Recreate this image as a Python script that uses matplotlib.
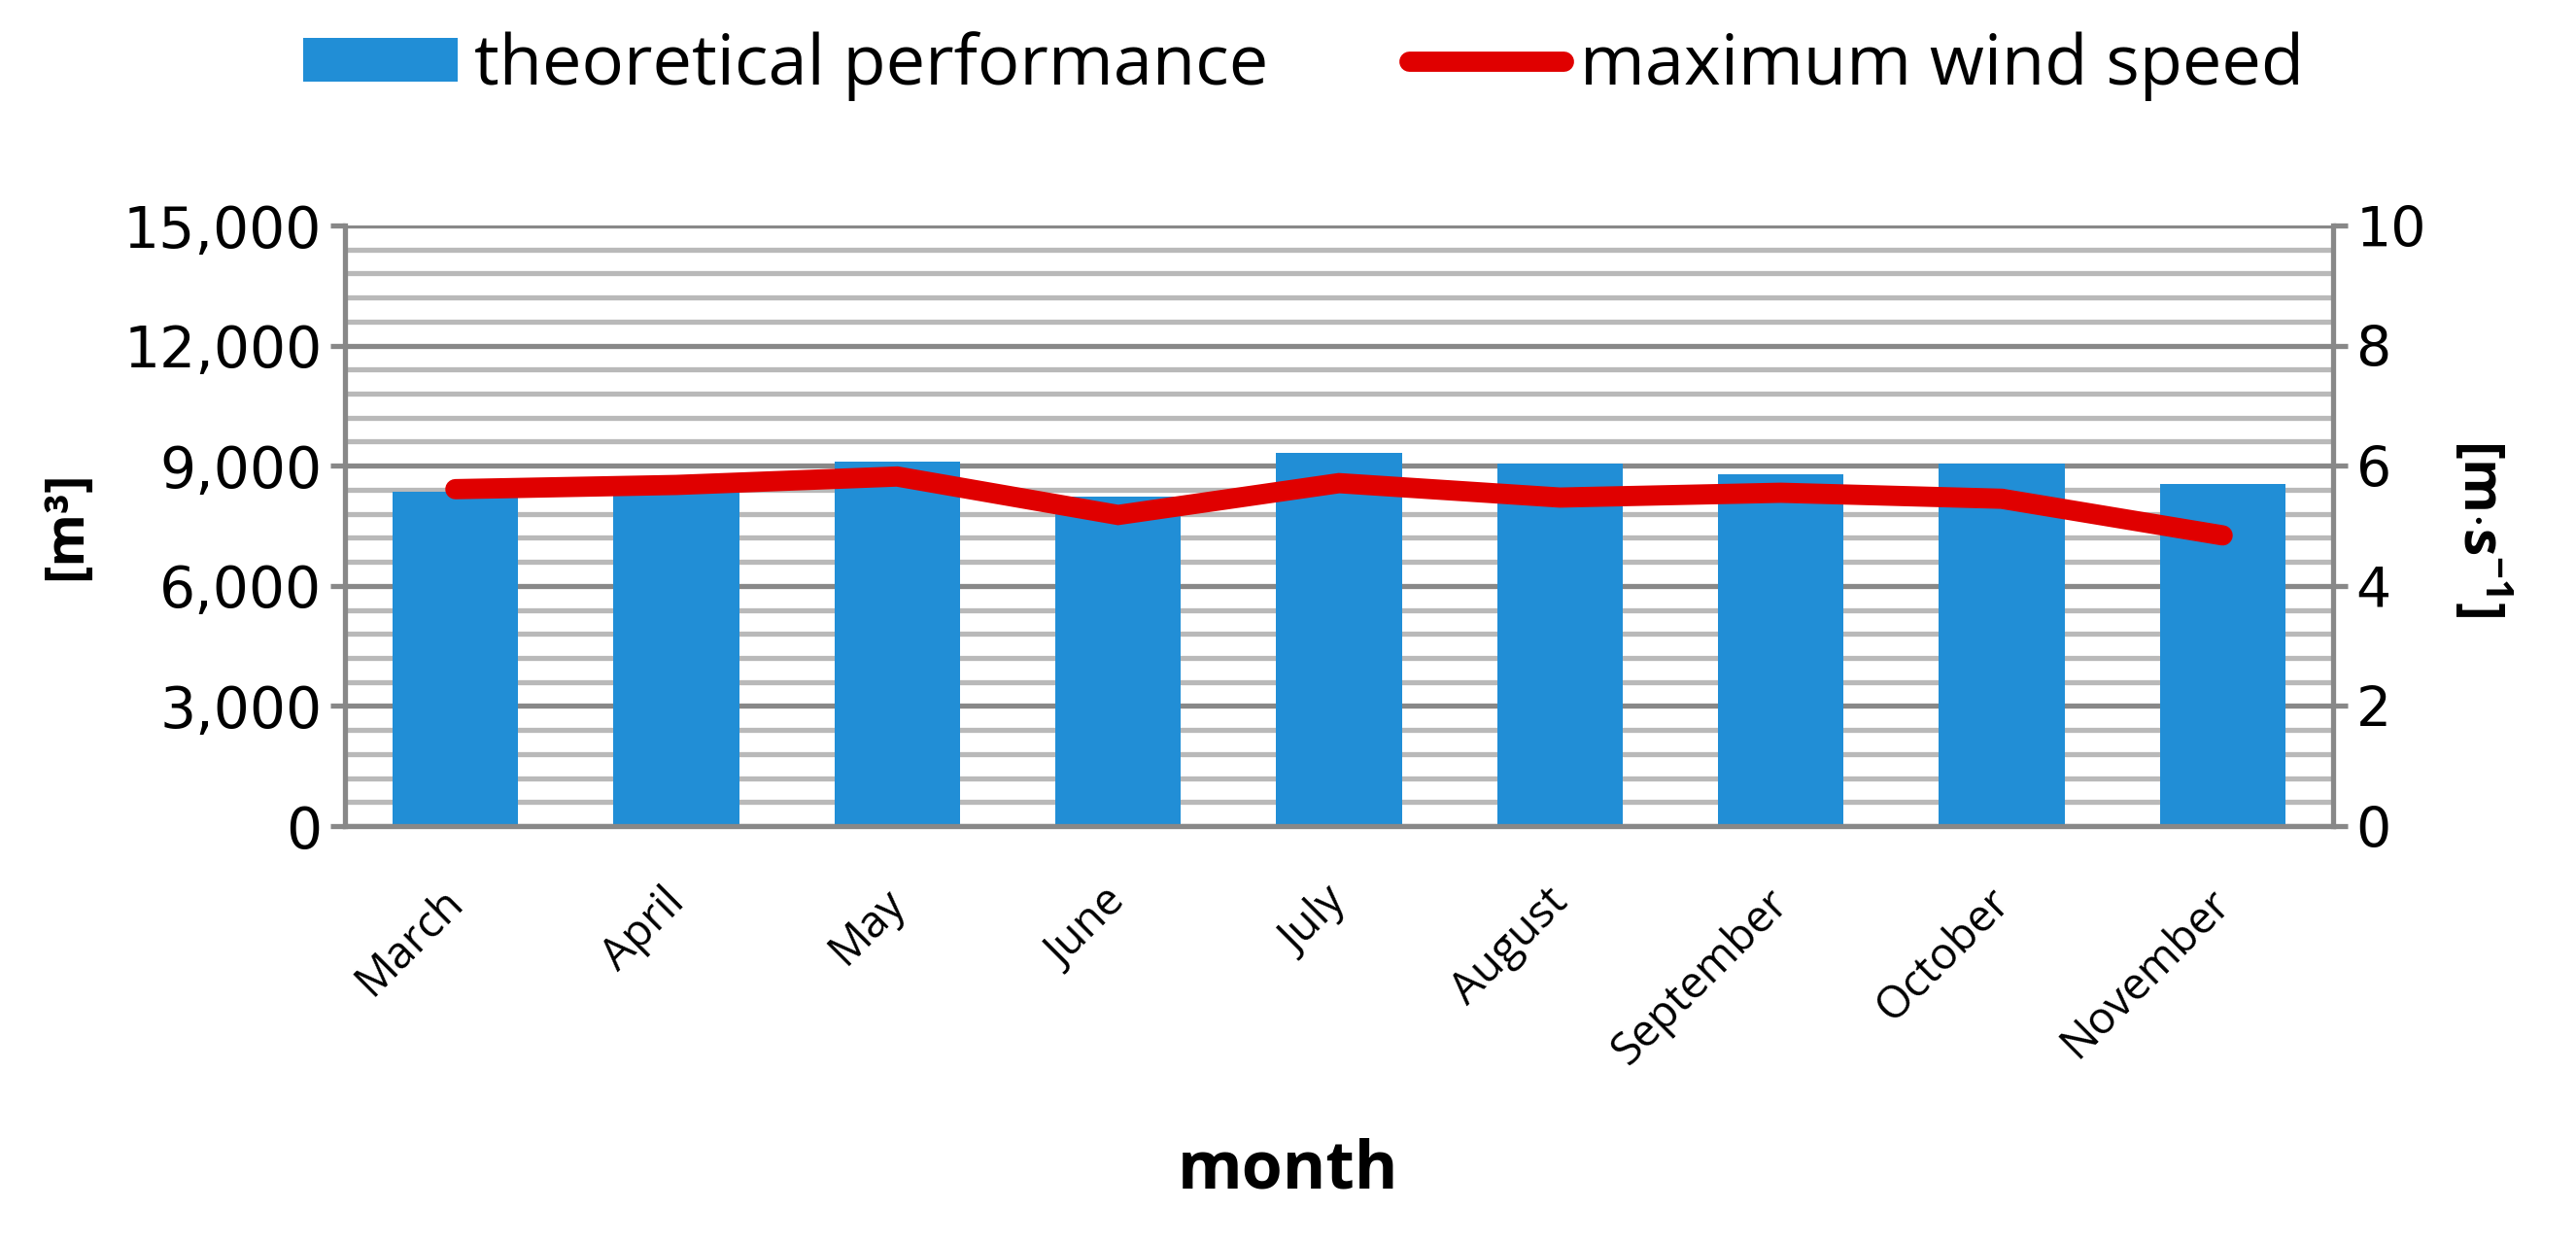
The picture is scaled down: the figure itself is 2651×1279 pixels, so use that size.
import matplotlib
matplotlib.use('Agg')
from matplotlib import pyplot as plt
from matplotlib.ticker import MultipleLocator, FuncFormatter
from matplotlib.transforms import ScaledTranslation
import numpy as np

months = ['March', 'April', 'May', 'June', 'July', 'August', 'September', 'October', 'November']
performance = [8350, 8500, 9100, 8220, 9310, 9050, 8790, 9050, 8540]   # m3
wind_speed = [5.61, 5.68, 5.82, 5.18, 5.71, 5.47, 5.55, 5.45, 4.84]     # m/s

blue = '#218ED6'
red = '#E00000'
major_c = '#888888'
minor_c = '#B9B9B9'
txt_font = ['Open Sans', 'DejaVu Sans']

plt.rcParams['mathtext.fontset'] = 'custom'
plt.rcParams['mathtext.rm'] = 'Open Sans'
plt.rcParams['mathtext.bf'] = 'Open Sans:bold'

fig = plt.figure(figsize=(26.51, 12.79), dpi=100)
ax = fig.add_axes([0.1339, 0.3354, 0.7718, 0.4832])
ax2 = ax.twinx()

x = np.arange(len(months))
b = ax.bar(x, performance, width=0.57, color=blue, zorder=2, label='theoretical performance')
ln, = ax2.plot(x, wind_speed, color=red, lw=15, solid_capstyle='round', solid_joinstyle='miter',
               zorder=3, label='maximum wind speed')

ax.set_xlim(-0.5, len(months) - 0.5)
ax.set_ylim(0, 15000)
ax2.set_ylim(0, 10)
ax.yaxis.set_major_locator(MultipleLocator(3000))
ax.yaxis.set_minor_locator(MultipleLocator(600))
ax2.yaxis.set_major_locator(MultipleLocator(2))
ax.yaxis.set_major_formatter(FuncFormatter(lambda v, p: f'{int(v):,}'))

ax.set_axisbelow(True)
gl = 3.8
ax.grid(which='major', axis='y', color=major_c, lw=gl)
ax.grid(which='minor', axis='y', color=minor_c, lw=gl)

for a in (ax, ax2):
    for s in a.spines.values():
        s.set_visible(False)
for a, side in ((ax, 'left'), (ax2, 'right'), (ax, 'bottom')):
    a.spines[side].set_visible(True)
    a.spines[side].set_color(major_c)
    a.spines[side].set_linewidth(gl)

ax.tick_params(axis='y', which='major', length=11, width=gl, color=major_c, labelsize=42, pad=6)
ax.tick_params(axis='y', which='minor', length=0)
ax2.tick_params(axis='y', which='major', length=11, width=gl, color=major_c, labelsize=41, pad=6)
ax.tick_params(axis='x', length=0, pad=40)

ax.set_xticks(x)
ax.set_xticklabels(months, rotation=45, ha='right', rotation_mode='anchor',
                   fontsize=33, family=txt_font)
shift = ScaledTranslation(-0.15, 0, fig.dpi_scale_trans)
for lab in ax.get_xticklabels():
    lab.set_transform(lab.get_transform() + shift)

fig.text(0.5, 0.058, 'month', ha='center', va='center', fontsize=49, fontweight='bold', family=txt_font)
fig.text(0.026, 0.577, '[m³]', ha='center', va='center', rotation=90, fontsize=40,
         fontweight='bold', family=txt_font)
fig.text(0.963, 0.575, r'[m$\mathbf{\cdot}$s$\mathbf{^{-1}}$]', ha='center', va='center', rotation=270,
         fontsize=41, fontweight='bold', family=txt_font)

fig.legend([b, ln], ['theoretical performance', 'maximum wind speed'], ncol=2, frameon=False,
           loc='center', bbox_to_anchor=(0.506, 0.947), prop={'family': txt_font, 'size': 52},
           handlelength=2.2, handleheight=0.58, handletextpad=0.24, columnspacing=2.0)

fig.savefig('out.png', dpi=100)
